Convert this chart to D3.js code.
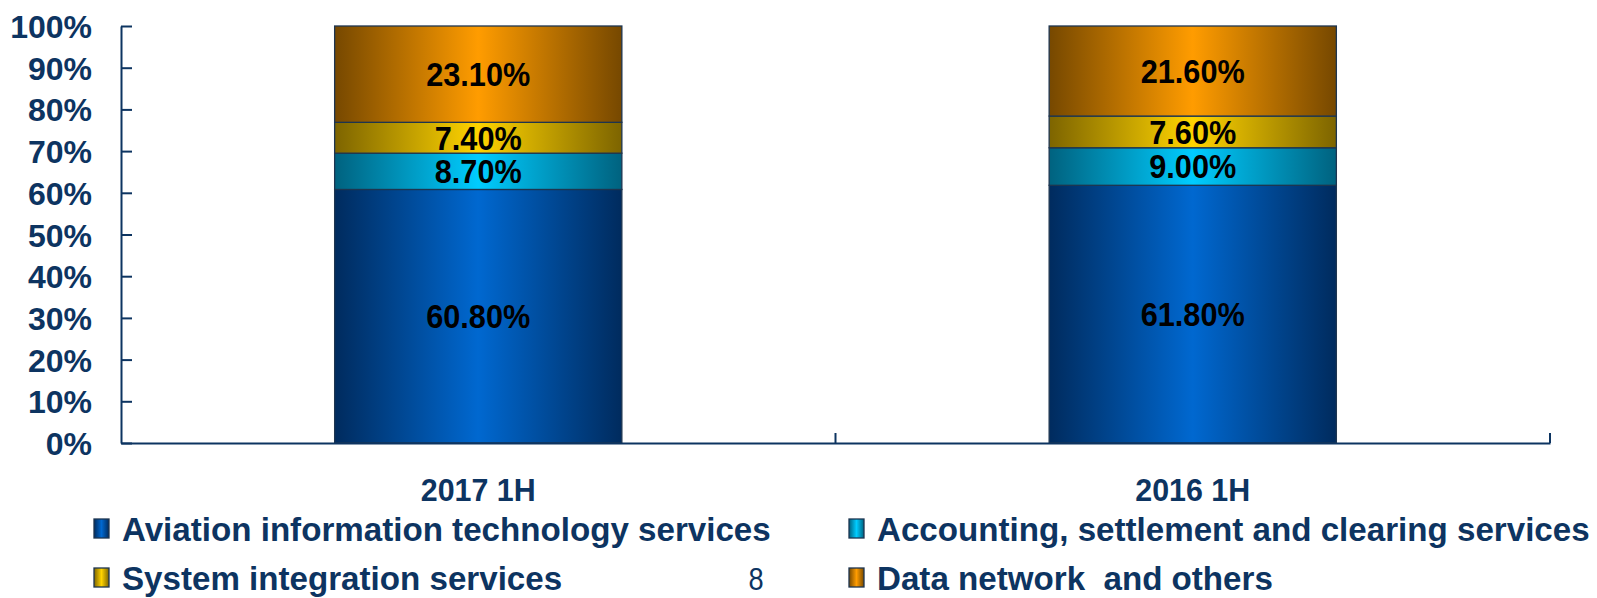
<!DOCTYPE html>
<html>
<head>
<meta charset="utf-8">
<script src="https://cdn.jsdelivr.net/npm/d3@7"></script>
<style>
  html, body { margin: 0; padding: 0; background: #fff; }
  svg { display: block; }
  text { white-space: pre; }
</style>
</head>
<body>
<svg id="chart" width="1597" height="598"></svg>
<script>
// ---- data ----
const categories = ["2017 1H", "2016 1H"];
const seriesNames = [
  "Aviation information technology services",
  "Accounting, settlement and clearing services",
  "System integration services",
  "Data network  and others"
];
const aviation   = [60.8, 61.8];
const accounting = [8.7, 9.0];
const sysint     = [7.4, 7.6];
const datanet    = [23.1, 21.6];
const yTicks = [0, 10, 20, 30, 40, 50, 60, 70, 80, 90, 100];
const valueLabels = [
  ["60.80%", "61.80%"],
  ["8.70%", "9.00%"],
  ["7.40%", "7.60%"],
  ["23.10%", "21.60%"]
];
const pageNumber = "8";

// ---- styles ----
const palette = [
  { edge: "#002b5e", mid: "#0068d0" },
  { edge: "#00627f", mid: "#00ccff" },
  { edge: "#7d6400", mid: "#ffd400" },
  { edge: "#764800", mid: "#ff9c00" }
];
const navy = "#0d3461";
const sans = "'Liberation Sans', Arial, sans-serif";

// condense a text horizontally (emulates a narrow face) via a transform
function condense(sel, factor) {
  sel.each(function () {
    const t = d3.select(this);
    const x0 = +(t.attr("x") || 0);
    t.attr("x", x0 / factor).attr("transform", `scale(${factor},1)`);
  });
}

const svg = d3.select("#chart");
const margin = { left: 121, right: 1550, top: 26, bottom: 443 };

const x = d3.scaleBand().domain(categories).range([margin.left, margin.right]).paddingInner(0).paddingOuter(0);
const barW = x.bandwidth() * 0.402;
const y = d3.scaleLinear().domain([0, 100]).range([margin.bottom, margin.top]);

// gradients
const defs = svg.append("defs");
palette.forEach((p, i) => {
  const g = defs.append("linearGradient").attr("id", "g" + i)
    .attr("x1", "0%").attr("x2", "100%").attr("y1", "0%").attr("y2", "0%");
  g.append("stop").attr("offset", "0%").attr("stop-color", p.edge);
  g.append("stop").attr("offset", "50%").attr("stop-color", p.mid);
  g.append("stop").attr("offset", "100%").attr("stop-color", p.edge);
});

// stack
const rows = categories.map((c, i) => ({
  cat: c, s0: aviation[i], s1: accounting[i], s2: sysint[i], s3: datanet[i]
}));
const stack = d3.stack().keys(["s0", "s1", "s2", "s3"])(rows);

const bars = svg.append("g");
stack.forEach((layer, si) => {
  layer.forEach((d, ci) => {
    const cx = x(categories[ci]) + x.bandwidth() / 2;
    bars.append("rect")
      .attr("x", cx - barW / 2)
      .attr("y", y(d[1]))
      .attr("width", barW)
      .attr("height", y(d[0]) - y(d[1]))
      .attr("fill", `url(#g${si})`)
      .attr("stroke", "#1d3550")
      .attr("stroke-width", 1.3);
  });
});

// value labels
stack.forEach((layer, si) => {
  layer.forEach((d, ci) => {
    const cx = x(categories[ci]) + x.bandwidth() / 2;
    bars.append("text")
      .attr("x", cx)
      .attr("y", (y(d[0]) + y(d[1])) / 2)
      .attr("dy", "0.36em")
      .attr("text-anchor", "middle")
      .attr("font-family", sans)
      .attr("font-weight", "bold")
      .attr("font-size", 33)
      .attr("fill", "#000")
      .text(valueLabels[si][ci])
      .call(condense, 0.93);
  });
});

// y axis
const yAxis = svg.append("g")
  .attr("transform", `translate(${margin.left},0)`)
  .call(d3.axisLeft(y).tickValues(yTicks).tickFormat(d => d + "%").tickSizeInner(-11).tickSizeOuter(0).tickPadding(29));
yAxis.select(".domain").attr("stroke", navy).attr("stroke-width", 2);
yAxis.selectAll(".tick line").attr("stroke", navy).attr("stroke-width", 2);
yAxis.selectAll(".tick text")
  .attr("font-family", sans).attr("font-weight", "bold").attr("font-size", 32)
  .attr("fill", navy).attr("dy", "0.36em");

// x axis
const xAxis = svg.append("g")
  .attr("transform", `translate(0,${margin.bottom})`)
  .call(d3.axisBottom(x).tickSize(0).tickPadding(35));
xAxis.select(".domain").attr("stroke", navy).attr("stroke-width", 2);
xAxis.selectAll(".tick text")
  .attr("font-family", sans).attr("font-weight", "bold").attr("font-size", 32)
  .attr("fill", navy)
  .call(condense, 0.95);
// band boundary ticks
const boundaries = categories.map(c => x(c) + x.bandwidth());
xAxis.selectAll(".bt").data(boundaries).enter().append("line")
  .attr("x1", d => d).attr("x2", d => d).attr("y1", 0).attr("y2", -10)
  .attr("stroke", navy).attr("stroke-width", 2);

// legend
const legendPos = [
  { mx: 94, ty: 529 }, { mx: 849, ty: 529 },
  { mx: 94, ty: 578 }, { mx: 849, ty: 578 }
];
const legend = svg.append("g");
seriesNames.forEach((name, i) => {
  const p = legendPos[i];
  legend.append("rect")
    .attr("x", p.mx).attr("y", p.ty - 10).attr("width", 15).attr("height", 19)
    .attr("fill", `url(#g${i})`).attr("stroke", "#1d3550").attr("stroke-width", 1.3);
  legend.append("text")
    .attr("x", p.mx + 28).attr("y", p.ty).attr("dy", "0.36em")
    .attr("font-family", sans).attr("font-weight", "bold").attr("font-size", 34)
    .attr("fill", navy).text(name)
    .call(condense, 0.975);
});

svg.append("text")
  .attr("x", 756).attr("y", 578).attr("dy", "0.36em").attr("text-anchor", "middle")
  .attr("font-family", sans).attr("font-size", 32).attr("fill", navy)
  .text(pageNumber)
  .call(condense, 0.85);
</script>
</body>
</html>
